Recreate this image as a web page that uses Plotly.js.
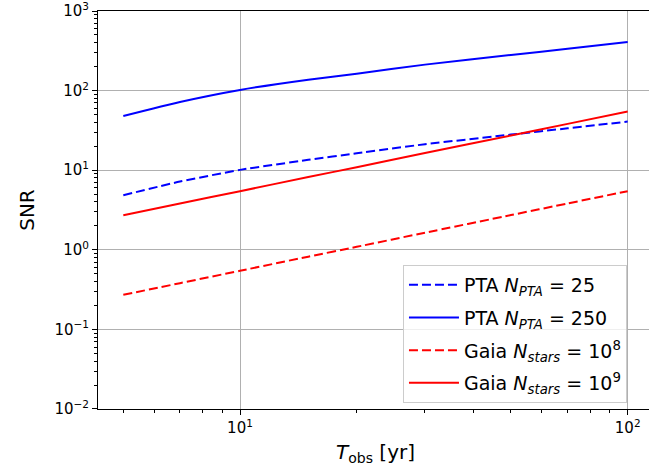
<!DOCTYPE html>
<html>
<head>
<meta charset="utf-8">
<script src="https://cdn.plot.ly/plotly-3.0.1.min.js"></script>
<style>
html, body { margin: 0; padding: 0; overflow: hidden; background: #fff; }
#chart { width: 655px; height: 473px; }
</style>
</head>
<body>
<div id="chart"></div>
<script>
// Observation time [yr]
const tObs = [5, 7, 10, 15, 20, 30, 50, 70, 100];
// SNR values
const ptaN250 = [48, 72, 102, 137, 163, 212, 280, 336, 408];
const ptaN25 = [4.85, 7.2, 10.1, 13.5, 16.3, 21.2, 28.0, 33.6, 40.8];
const gaia1e9 = [2.72, 3.81, 5.45, 8.2, 10.9, 16.4, 27.3, 38.2, 54.5];
const gaia1e8 = [0.272, 0.381, 0.545, 0.82, 1.09, 1.64, 2.73, 3.82, 5.45];

const seriesNames = [
  'PTA <i>N</i><sub><i>PTA</i></sub> = 25',
  'PTA <i>N</i><sub><i>PTA</i></sub> = 250',
  'Gaia <i>N</i><sub><i>stars</i></sub> = 10<sup>8</sup>',
  'Gaia <i>N</i><sub><i>stars</i></sub> = 10<sup>9</sup>'
];

const xTickVals = [10, 100];
const xTickText = ['10<sup>1</sup>', '10<sup>2</sup>'];
const yTickVals = [0.01, 0.1, 1, 10, 100, 1000];
const yTickText = ['10<sup>−2</sup>', '10<sup>−1</sup>', '10<sup>0</sup>', '10<sup>1</sup>', '10<sup>2</sup>', '10<sup>3</sup>'];

function minorVals(lo, hi) {
  const out = [];
  for (let d = lo; d < hi; d *= 10) {
    for (let k = 2; k <= 9; k++) out.push(d * k);
  }
  return out;
}

const dashStyle = '9px,4px';
const traces = [
  {x: tObs, y: ptaN25, name: seriesNames[0], line: {color: '#0000ff', width: 2, dash: dashStyle}},
  {x: tObs, y: ptaN250, name: seriesNames[1], line: {color: '#0000ff', width: 2}},
  {x: tObs, y: gaia1e8, name: seriesNames[2], line: {color: '#ff0000', width: 2, dash: dashStyle}},
  {x: tObs, y: gaia1e9, name: seriesNames[3], line: {color: '#ff0000', width: 2}}
].map((t, i) => Object.assign({type: 'scatter', mode: 'lines', legendgroup: 'g' + i}, t));
traces.forEach(t => { t.line.shape = 'spline'; t.line.smoothing = 0.5; });

const axisCommon = {
  type: 'log',
  showline: true,
  linecolor: '#000',
  linewidth: 1,
  mirror: true,
  ticks: 'outside',
  ticklen: 5,
  tickwidth: 1,
  tickcolor: '#000',
  showgrid: true,
  gridcolor: '#b0b0b0',
  gridwidth: 1,
  zeroline: false,
  ticklabeloverflow: 'allow',
  tickfont: {family: 'DejaVu Sans', size: 15, color: '#000'}
};

const layout = {
  width: 655,
  height: 473,
  margin: {l: 98, r: 2, t: 11, b: 64},
  paper_bgcolor: '#fff',
  plot_bgcolor: '#fff',
  font: {family: 'DejaVu Sans', color: '#000'},
  xaxis: Object.assign({}, axisCommon, {
    range: [0.6337, 2.0653],
    tickmode: 'array',
    tickvals: xTickVals,
    ticktext: xTickText,
    minor: {tickmode: 'array', tickvals: minorVals(1, 100), ticks: 'outside', ticklen: 3, tickwidth: 1, tickcolor: '#000', showgrid: false},
    title: {text: '<i>T</i><sub>obs</sub> [yr]', font: {family: 'DejaVu Sans', size: 20, color: '#000'}, standoff: 8}
  }),
  yaxis: Object.assign({}, axisCommon, {
    range: [-2.0001, 3.0001],
    tickmode: 'array',
    tickvals: yTickVals,
    ticktext: yTickText,
    minor: {tickmode: 'array', tickvals: minorVals(0.01, 1000), ticks: 'outside', ticklen: 3, tickwidth: 1, tickcolor: '#000', showgrid: false},
    title: {text: 'SNR', font: {family: 'DejaVu Sans', size: 20, color: '#000'}, standoff: 14}
  }),
  showlegend: true,
  legend: {
    x: 0.5495, y: 0.362, xanchor: 'left', yanchor: 'top',
    bgcolor: 'rgba(255,255,255,0.8)',
    bordercolor: '#cccccc',
    borderwidth: 1,
    font: {family: 'DejaVu Sans', size: 19, color: '#000'},
    tracegroupgap: 5,
    itemwidth: 50,
    traceorder: 'grouped'
  }
};

Plotly.newPlot('chart', traces, layout, {displayModeBar: false, staticPlot: true});
</script>
</body>
</html>
